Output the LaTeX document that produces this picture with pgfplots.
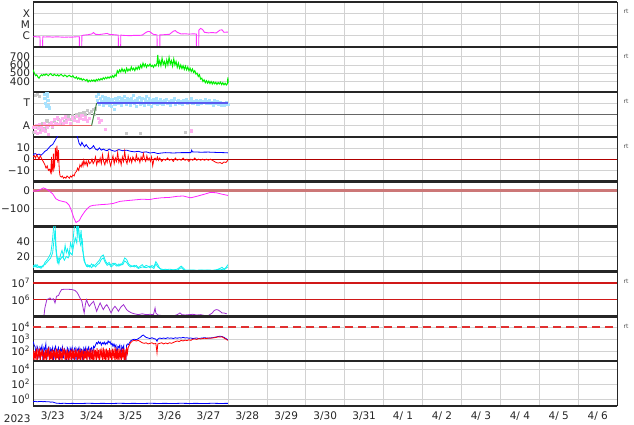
\documentclass[border=0pt]{standalone}
\usepackage{fontspec}
\setmainfont{DejaVu Sans}
\usepackage{pgfplots}
\pgfplotsset{compat=1.18}
\definecolor{gridgray}{HTML}{D2D2D2}
\definecolor{xmag}{HTML}{FF33FF}
\definecolor{swgreen}{HTML}{00F000}
\definecolor{ltblue}{HTML}{A8E2FF}
\definecolor{ltpink}{HTML}{FFB0F0}
\definecolor{ltgray}{HTML}{C8C8C8}
\definecolor{alinered}{HTML}{E06060}
\definecolor{tlineblue}{HTML}{5A5AF0}
\definecolor{trgreen}{HTML}{408040}
\definecolor{zerored}{HTML}{B00000}
\definecolor{dstzero}{HTML}{CC7777}
\definecolor{dstmag}{HTML}{FF22FF}
\definecolor{cyanl}{HTML}{10F0F0}
\definecolor{purp}{HTML}{A030D0}
\definecolor{refred}{HTML}{D01818}
\definecolor{dashred}{HTML}{E03030}
\newcommand{\tfont}{\fontsize{10.5}{12}\selectfont}
\tikzset{rt/.style={font=\fontsize{6}{6}\selectfont, text=black!70, anchor=west, xshift=3pt}}
\pgfplotsset{
  panel/.style={
    scale only axis, width=584pt, height=44.9pt, anchor=south west,
    xmin=0, xmax=15, xtick={0,1,...,15}, xticklabels={},
    xmajorgrids, ymajorgrids,
    major grid style={draw=gridgray, line width=0.6pt},
    separate axis lines,
    every outer x axis line/.append style={line width=2.4pt, black!85},
    every outer y axis line/.append style={line width=1pt, black!85},
    tick style={draw=none},
    clip mode=individual,
    yticklabel style={font=\tfont, text=black!85, inner sep=0pt, xshift=-3pt},
    xticklabel style={font=\tfont, text=black!85},
    every axis plot/.append style={line width=0.8pt},
  },
}
\begin{document}
\begin{tikzpicture}
\path[use as bounding box] (-33.2pt,-18pt) rectangle (600.8pt,406.1pt);
% ---------- Panel 1: X-ray class ----------
\begin{axis}[panel, at={(0pt,359.2pt)}, ymin=-7, ymax=-3,
  ytick={-6,-5,-4}, yticklabels={C,M,X}]
\addplot[xmag, no marks, line width=0.9pt] coordinates {(0,-6.1)(0.05,-6.08)(0.1,-6.12)(0.15,-6.1)(0.175,-6.11)(0.18,-7.5)(0.24,-7.5)(0.245,-6.1)(0.3,-6.12)(0.4,-6.1)(0.5,-6.13)(0.6,-6.1)(0.7,-6.12)(0.8,-6.14)(0.9,-6.12)(1.0,-6.13)(1.1,-6.1)(1.185,-6.1)(1.19,-7.5)(1.245,-7.5)(1.25,-6.0)(1.3,-5.95)(1.4,-5.92)(1.5,-5.85)(1.55,-5.72)(1.6,-5.88)(1.7,-5.9)(1.8,-5.85)(1.9,-5.8)(1.95,-5.88)(2.0,-5.9)(2.1,-5.92)(2.185,-5.95)(2.19,-7.5)(2.245,-7.5)(2.25,-5.95)(2.35,-5.98)(2.5,-6.0)(2.6,-5.97)(2.7,-5.98)(2.8,-5.95)(2.9,-5.7)(2.95,-5.62)(3.0,-5.65)(3.05,-5.8)(3.1,-5.9)(3.18,-5.92)(3.185,-7.5)(3.25,-7.5)(3.255,-5.92)(3.3,-5.93)(3.4,-5.9)(3.5,-5.88)(3.6,-5.6)(3.65,-5.55)(3.7,-5.7)(3.8,-5.85)(3.9,-5.83)(4.0,-5.86)(4.1,-5.84)(4.19,-5.85)(4.195,-7.5)(4.25,-7.5)(4.255,-5.5)(4.3,-5.35)(4.35,-5.45)(4.4,-5.7)(4.5,-5.75)(4.6,-5.72)(4.7,-5.76)(4.8,-5.5)(4.85,-5.48)(4.9,-5.7)(5.0,-5.68)};
\node[rt] at (rel axis cs:1,0.78) {rt};
\end{axis}
% ---------- Panel 2: solar wind speed ----------
\begin{axis}[panel, at={(0pt,314.3pt)}, ymin=276, ymax=816,
  ytick={400,500,600,700}, yticklabels={400,500,600,700}]
\addplot[swgreen, no marks, line width=1pt] coordinates {(0.00,540)(0.03,500)(0.06,470)(0.09,480)(0.12,455)(0.15,440)(0.18,465)(0.21,480)(0.24,470)(0.27,485)(0.30,475)(0.33,490)(0.36,480)(0.39,470)(0.42,485)(0.45,495)(0.48,478)(0.51,470)(0.54,488)(0.57,476)(0.60,470)(0.63,482)(0.66,465)(0.69,478)(0.72,485)(0.75,470)(0.78,462)(0.81,478)(0.84,470)(0.87,455)(0.90,468)(0.93,474)(0.96,460)(0.99,455)(1.02,470)(1.05,448)(1.08,440)(1.11,455)(1.14,430)(1.17,445)(1.20,425)(1.23,438)(1.26,415)(1.29,430)(1.32,420)(1.35,410)(1.38,425)(1.41,395)(1.44,415)(1.47,400)(1.50,418)(1.53,405)(1.56,420)(1.59,400)(1.62,425)(1.65,410)(1.68,430)(1.71,415)(1.74,435)(1.77,420)(1.80,445)(1.83,430)(1.86,450)(1.89,435)(1.92,455)(1.95,440)(1.98,460)(2.01,445)(2.04,470)(2.07,450)(2.10,480)(2.13,465)(2.16,530)(2.19,505)(2.22,540)(2.25,515)(2.28,555)(2.31,520)(2.34,545)(2.37,510)(2.40,560)(2.43,525)(2.46,550)(2.49,530)(2.52,575)(2.55,540)(2.58,560)(2.61,530)(2.64,570)(2.67,545)(2.70,580)(2.73,550)(2.76,600)(2.79,565)(2.82,620)(2.85,580)(2.88,610)(2.91,570)(2.94,600)(2.97,585)(3.00,610)(3.03,580)(3.06,595)(3.09,570)(3.12,600)(3.15,585)(3.18,620)(3.20,720)(3.22,600)(3.25,650)(3.28,590)(3.31,680)(3.34,605)(3.37,640)(3.40,580)(3.43,660)(3.46,600)(3.49,690)(3.52,610)(3.55,650)(3.58,585)(3.61,670)(3.64,600)(3.67,640)(3.70,570)(3.73,620)(3.76,560)(3.79,600)(3.82,555)(3.85,590)(3.88,545)(3.91,585)(3.94,540)(3.97,575)(4.00,530)(4.03,560)(4.06,520)(4.09,550)(4.12,510)(4.15,530)(4.18,490)(4.21,500)(4.24,460)(4.27,480)(4.30,430)(4.33,440)(4.36,400)(4.39,420)(4.42,385)(4.45,410)(4.48,380)(4.51,405)(4.54,375)(4.57,400)(4.60,370)(4.63,395)(4.66,372)(4.69,390)(4.72,365)(4.75,388)(4.78,370)(4.81,392)(4.84,362)(4.87,385)(4.90,360)(4.93,380)(4.96,358)(4.99,375)(5.00,450)(5.01,380)};
\node[rt] at (rel axis cs:1,0.78) {rt};
\end{axis}
% ---------- Panel 3: sector ----------
\begin{axis}[panel, at={(0pt,269.4pt)}, ymin=0, ymax=1,
  ytick={0.25,0.75}, yticklabels={A,T}]
\addplot[black!60, line width=0.8pt, forget plot] coordinates {(0,0.5)(15,0.5)};
\addplot[ltgray, only marks, mark=square*, mark size=1.1pt] coordinates {(0.02,0.1)(0.05,0.92)(0.1,0.95)(0.15,0.9)(0.12,0.2)(0.2,0.15)(0.25,0.3)(0.3,0.18)(0.35,0.35)(0.4,0.25)(0.45,0.3)(0.5,0.22)(0.55,0.35)(0.6,0.3)(0.65,0.38)(0.7,0.27)(0.75,0.4)(0.8,0.33)(0.85,0.42)(0.9,0.45)(0.95,0.38)(1.0,0.48)(1.05,0.43)(1.1,0.5)(1.15,0.45)(1.2,0.52)(1.25,0.47)(1.3,0.55)(1.35,0.5)(1.4,0.58)(1.45,0.52)(1.5,0.56)(1.55,0.6)(1.58,0.5)(1.6,0.62)(2.4,0.07)(2.75,0.07)(3.9,0.1)};
\addplot[ltpink, only marks, mark=square*, mark size=1.1pt] coordinates {(0.02,0.2)(0.05,0.12)(0.08,0.25)(0.1,0.08)(0.13,0.18)(0.16,0.28)(0.19,0.1)(0.22,0.22)(0.25,0.15)(0.28,0.3)(0.31,0.12)(0.34,0.25)(0.37,0.2)(0.4,0.05)(0.43,0.28)(0.46,0.32)(0.5,0.24)(0.54,0.38)(0.58,0.3)(0.62,0.42)(0.66,0.27)(0.7,0.35)(0.74,0.4)(0.78,0.3)(0.82,0.44)(0.86,0.33)(0.9,0.38)(0.95,0.3)(1.0,0.42)(1.05,0.36)(1.1,0.45)(1.15,0.34)(1.2,0.4)(1.25,0.47)(1.3,0.38)(1.35,0.42)(1.4,0.35)(1.45,0.4)(1.68,0.4)(1.7,0.32)(1.74,0.36)(1.85,0.17)(4.07,0.13)};
\addplot[ltblue, only marks, mark=square*, mark size=1.1pt] coordinates {(0.28,0.95)(0.3,0.85)(0.32,0.75)(0.34,0.68)(0.36,0.9)(0.38,0.8)(0.4,0.7)(0.42,0.64)(0.35,0.97)(1.62,0.9)(1.65,0.8)(1.68,0.95)(1.7,0.72)(1.72,0.85)(1.75,0.78)(1.78,0.9)(1.8,0.7)(1.83,0.82)(1.86,0.88)(1.88,0.75)(1.9,0.8)(1.93,0.85)(1.96,0.7)(1.98,0.78)(2.0,0.68)(2.02,0.82)(2.05,0.76)(2.08,0.6)(2.1,0.72)(2.12,0.85)(2.15,0.8)(2.18,0.74)(2.2,0.88)(2.23,0.79)(2.26,0.7)(2.28,0.84)(2.31,0.76)(2.34,0.9)(2.36,0.8)(2.39,0.73)(2.42,0.86)(2.45,0.78)(2.48,0.82)(2.5,0.7)(2.53,0.85)(2.56,0.78)(2.58,0.92)(2.6,0.74)(2.63,0.8)(2.66,0.68)(2.68,0.84)(2.7,0.77)(2.73,0.88)(2.76,0.72)(2.78,0.8)(2.8,0.85)(2.83,0.75)(2.86,0.7)(2.88,0.82)(2.9,0.9)(2.93,0.78)(2.96,0.73)(2.98,0.85)(3.0,0.8)(3.03,0.68)(3.06,0.76)(3.08,0.83)(3.1,0.74)(3.13,0.8)(3.16,0.86)(3.18,0.72)(3.2,0.79)(3.23,0.75)(3.26,0.82)(3.3,0.78)(3.33,0.72)(3.36,0.8)(3.4,0.76)(3.43,0.83)(3.46,0.74)(3.5,0.79)(3.53,0.71)(3.56,0.8)(3.6,0.77)(3.63,0.84)(3.66,0.73)(3.7,0.78)(3.73,0.81)(3.76,0.75)(3.8,0.79)(3.83,0.72)(3.86,0.8)(3.9,0.76)(3.93,0.82)(3.96,0.74)(4.0,0.79)(4.03,0.77)(4.06,0.84)(4.1,0.74)(4.13,0.79)(4.16,0.76)(4.2,0.81)(4.23,0.73)(4.26,0.78)(4.3,0.8)(4.33,0.75)(4.36,0.79)(4.4,0.76)(4.43,0.82)(4.46,0.74)(4.5,0.78)(4.53,0.8)(4.56,0.75)(4.6,0.77)(4.63,0.7)(4.66,0.8)(4.7,0.74)(4.73,0.78)(4.76,0.72)(4.8,0.76)(4.83,0.7)(4.86,0.75)(4.9,0.69)(4.93,0.74)(4.96,0.77)(5.0,0.72)};
\addplot[alinered, no marks, line width=1pt] coordinates {(0,0.25)(1.5,0.25)};
\addplot[trgreen, no marks, line width=1pt] coordinates {(1.5,0.25)(1.63,0.75)};
\addplot[tlineblue, no marks, line width=1.2pt] coordinates {(1.63,0.75)(5.0,0.75)};
\node[rt] at (rel axis cs:1,0.78) {rt};
\end{axis}
% ---------- Panel 4: Bt / Bz ----------
\begin{axis}[panel, at={(0pt,224.5pt)}, ymin=-20, ymax=20,
  ytick={-10,0,10}, yticklabels={−10,0,10}]
\addplot[zerored, line width=1pt, forget plot] coordinates {(0,0)(15,0)};
\addplot[blue, no marks] coordinates {(0,4)(0.05,5)(0.1,4)(0.15,4.5)(0.2,3.5)(0.25,5)(0.3,7)(0.35,8)(0.4,10)(0.45,12)(0.5,13)(0.55,16)(0.6,19)(0.65,22)(0.7,22)(1.12,22)(1.15,18)(1.18,14)(1.22,12)(1.25,15)(1.28,13)(1.32,11)(1.36,13)(1.4,11)(1.45,9)(1.5,10)(1.55,12)(1.6,9)(1.65,8)(1.7,10)(1.75,8)(1.8,9)(1.85,8)(1.9,7.5)(1.95,9)(2.0,8)(2.1,7)(2.2,8.5)(2.3,7.5)(2.4,8)(2.5,7)(2.6,6.5)(2.7,7)(2.8,6)(2.9,6.5)(3.0,5.5)(3.1,6)(3.2,5)(3.3,5.5)(3.4,5.8)(3.6,5.5)(3.8,5.8)(4.0,5.8)(4.05,5.8)(4.07,8)(4.09,6.5)(4.3,6.2)(4.5,6.3)(4.7,6.0)(4.9,5.8)(5.0,5.6)};
\addplot[red, no marks] coordinates {(0.00,2)(0.03,3)(0.06,1)(0.09,4)(0.12,2)(0.15,0)(0.18,3)(0.21,1)(0.24,-1)(0.27,-3)(0.30,-5)(0.33,-8)(0.36,-6)(0.39,-10)(0.42,-9)(0.45,-12)(0.47,2)(0.48,-11)(0.50,-8)(0.52,5)(0.53,-9)(0.55,-6)(0.57,10)(0.59,0)(0.61,12)(0.63,-3)(0.65,8)(0.67,-10)(0.69,-15)(0.72,-16)(0.75,-15)(0.78,-17)(0.81,-16)(0.84,-17)(0.87,-15)(0.90,-16)(0.93,-17)(0.96,-15)(0.99,-16)(1.02,-14)(1.05,-15)(1.08,-12)(1.11,-11)(1.14,-8)(1.17,-10)(1.20,-5)(1.23,-7)(1.26,-3)(1.28,-6)(1.30,-1)(1.33,-5)(1.36,-2)(1.39,-6)(1.42,-1)(1.45,-4)(1.48,-3)(1.51,0)(1.54,-4)(1.57,-2)(1.60,2)(1.63,-5)(1.66,-1)(1.69,-3)(1.72,1)(1.75,-4)(1.78,4)(1.81,-2)(1.84,-5)(1.87,0)(1.90,-3)(1.93,5)(1.96,-2)(1.99,-6)(2.02,-1)(2.05,3)(2.08,-4)(2.11,1)(2.14,-2)(2.17,6)(2.20,-3)(2.23,0)(2.26,-5)(2.29,2)(2.32,-2)(2.35,7)(2.38,-1)(2.41,-4)(2.44,3)(2.47,-2)(2.50,1)(2.53,-3)(2.56,2)(2.59,0)(2.62,-2)(2.65,4)(2.68,-1)(2.71,1)(2.74,-3)(2.77,2)(2.80,-1)(2.83,5)(2.86,0)(2.89,-2)(2.92,3)(2.95,-1)(2.98,1)(3.01,-2)(3.04,2)(3.07,-6)(3.10,0)(3.13,1)(3.16,-1)(3.19,2)(3.22,-1)(3.25,1)(3.30,-2)(3.35,0)(3.40,-1)(3.45,1)(3.50,-1)(3.55,0)(3.60,-2)(3.65,1)(3.70,-1)(3.75,0)(3.80,-1)(3.85,1)(3.90,-1)(3.95,0)(4.00,-2)(4.05,0)(4.10,-1)(4.15,1)(4.20,-1)(4.25,0)(4.30,-1)(4.35,0)(4.40,-1)(4.45,0)(4.50,-1)(4.55,0)(4.60,-1)(4.65,-2)(4.70,-3)(4.75,-3.5)(4.80,-3)(4.85,-4)(4.90,-2.5)(4.95,-3)(5.00,-1)};
\node[rt] at (rel axis cs:1,0.78) {rt};
\end{axis}
% ---------- Panel 5: Dst ----------
\begin{axis}[panel, at={(0pt,179.6pt)}, ymin=-200, ymax=50,
  ytick={-100,0}, yticklabels={−100,0}]
\addplot[dstzero, line width=2.2pt, forget plot] coordinates {(0,0)(15,0)};
\addplot[dstmag, no marks] coordinates {(0,-3)(0.1,-2)(0.18,5)(0.26,15)(0.32,10)(0.4,0)(0.5,-18)(0.58,-45)(0.66,-55)(0.75,-60)(0.85,-65)(0.92,-80)(0.98,-110)(1.04,-150)(1.1,-178)(1.14,-172)(1.18,-168)(1.25,-140)(1.33,-115)(1.4,-98)(1.46,-87)(1.55,-82)(1.65,-80)(1.75,-78)(1.9,-76)(2.05,-72)(2.23,-60)(2.4,-56)(2.6,-52)(2.8,-48)(3.0,-50)(3.1,-45)(3.3,-40)(3.5,-38)(3.7,-32)(3.85,-30)(4.0,-38)(4.05,-40)(4.2,-32)(4.4,-20)(4.55,-10)(4.7,-12)(4.85,-20)(5.0,-27)};
\end{axis}
% ---------- Panel 6: cyan ----------
\begin{axis}[panel, at={(0pt,134.7pt)}, ymin=0, ymax=60,
  ytick={20,40}, yticklabels={20,40}]
\addplot[cyanl, no marks] coordinates {(0,8)(0.05,6)(0.1,9)(0.15,5)(0.2,7)(0.25,6)(0.3,12)(0.35,15)(0.4,19)(0.45,24)(0.48,35)(0.5,45)(0.53,62)(0.56,65)(0.58,40)(0.6,25)(0.63,15)(0.66,10)(0.7,22)(0.74,28)(0.78,20)(0.82,35)(0.85,25)(0.88,30)(0.92,22)(0.96,38)(1.0,30)(1.03,45)(1.06,62)(1.1,65)(1.13,50)(1.16,62)(1.2,40)(1.23,55)(1.26,30)(1.3,20)(1.33,12)(1.37,7)(1.4,9)(1.45,6)(1.5,10)(1.55,7)(1.6,9)(1.65,12)(1.7,15)(1.75,20)(1.8,22)(1.85,15)(1.9,10)(1.95,12)(2.0,8)(2.05,11)(2.1,9)(2.15,7)(2.2,10)(2.25,8)(2.3,12)(2.35,18)(2.4,16)(2.45,10)(2.5,8)(2.55,7)(2.6,6)(2.65,8)(2.7,5)(2.75,7)(2.8,9)(2.85,6)(2.9,8)(2.95,7)(3.0,5)(3.05,8)(3.1,6)(3.15,13)(3.2,9)(3.25,4)(3.3,3)(3.4,2)(3.5,3)(3.6,2)(3.7,3)(3.8,7)(3.85,5)(3.9,2)(4.0,1)(4.1,2)(4.2,1.5)(4.3,2)(4.4,1)(4.5,2)(4.6,1.5)(4.7,2)(4.8,4)(4.85,5.5)(4.9,3)(4.95,5)(5.0,9)};
\addplot[cyanl, no marks] coordinates {(0,5)(0.05,9)(0.1,5)(0.15,7)(0.2,4)(0.25,8)(0.3,9)(0.35,12)(0.4,15)(0.45,18)(0.5,25)(0.53,40)(0.56,55)(0.58,30)(0.62,12)(0.66,18)(0.7,16)(0.75,20)(0.8,15)(0.85,20)(0.9,18)(0.95,25)(1.0,22)(1.04,35)(1.08,45)(1.12,38)(1.15,65)(1.18,45)(1.22,35)(1.26,42)(1.3,15)(1.35,9)(1.4,6)(1.45,8)(1.5,5)(1.55,9)(1.6,6)(1.65,9)(1.7,11)(1.75,16)(1.8,18)(1.85,12)(1.9,8)(1.95,10)(2.0,6)(2.05,8)(2.1,11)(2.15,9)(2.2,7)(2.25,10)(2.3,9)(2.35,14)(2.4,12)(2.45,8)(2.5,6)(2.6,8)(2.7,4)(2.8,6)(2.9,5)(3.0,7)(3.1,4)(3.15,10)(3.2,6)(3.3,2)(3.4,3)(3.5,1)(3.6,2)(3.7,1.5)(3.8,5)(3.9,1)(4.0,2)(4.2,1)(4.4,2)(4.6,1)(4.8,3)(4.9,2)(5.0,6)};
\end{axis}
% ---------- Panel 7: purple (log10) ----------
\begin{axis}[panel, at={(0pt,89.8pt)}, ymin=5, ymax=7.69,
  ytick={6,7}, yticklabels={10\textsuperscript{6},10\textsuperscript{7}}]
\addplot[refred, line width=1.2pt, forget plot] coordinates {(0,6)(15,6)};
\addplot[refred, line width=1.2pt, forget plot] coordinates {(0,7)(15,7)};
\addplot[purp, no marks] coordinates {(0.25,4.5)(0.3,5.5)(0.35,6.0)(0.4,6.05)(0.43,6.1)(0.47,6.0)(0.52,6.05)(0.56,5.8)(0.6,6.2)(0.65,6.25)(0.69,6.45)(0.73,6.6)(0.8,6.62)(0.9,6.62)(1.0,6.6)(1.07,6.55)(1.12,6.45)(1.16,6.3)(1.2,6.1)(1.25,5.9)(1.29,5.4)(1.31,5.2)(1.34,5.7)(1.37,6.0)(1.4,5.8)(1.44,5.6)(1.49,5.75)(1.55,5.9)(1.59,5.6)(1.63,5.3)(1.68,5.6)(1.72,5.8)(1.76,5.6)(1.8,5.4)(1.85,5.6)(1.89,5.7)(1.94,5.5)(2.0,5.2)(2.05,5.45)(2.1,5.6)(2.15,5.45)(2.19,5.3)(2.25,5.55)(2.32,5.7)(2.36,5.55)(2.4,5.4)(2.45,5.3)(2.53,5.2)(2.6,5.15)(2.7,5.1)(2.8,5.15)(2.9,5.1)(3.0,5.12)(3.09,5.1)(3.11,5.3)(3.13,5.5)(3.15,5.2)(3.2,5.08)(3.3,5.05)(3.4,5.02)(3.5,5.04)(3.6,5.02)(3.7,5.1)(3.77,5.2)(3.82,5.1)(3.9,5.08)(4.0,5.1)(4.1,5.12)(4.2,5.08)(4.3,5.1)(4.4,5.05)(4.5,5.05)(4.6,5.2)(4.65,5.35)(4.7,5.4)(4.75,5.38)(4.8,5.3)(4.85,5.2)(4.9,5.2)(4.97,5.15)};
\node[rt] at (rel axis cs:1,0.78) {rt};
\end{axis}
% ---------- Panel 8: flux (log10) ----------
\begin{axis}[panel, at={(0pt,44.9pt)}, ymin=1.15, ymax=4.92,
  ytick={2,3,4}, yticklabels={10\textsuperscript{2},10\textsuperscript{3},10\textsuperscript{4}}]
\addplot[dashred, line width=1.6pt, dash pattern=on 8pt off 5pt, forget plot] coordinates {(0,4)(15,4)};
\addplot[blue, no marks] coordinates {(0,2.8)(0.025,2.5)(0.05,2.35)(0.075,1.6)(0.1,2.4)(0.125,2.2)(0.15,1.4)(0.175,2.3)(0.2,2.1)(0.225,2.45)(0.25,1.2)(0.275,2.3)(0.3,2.1)(0.325,2.6)(0.35,1.3)(0.375,2.2)(0.4,2.35)(0.425,1.5)(0.45,2.2)(0.475,2.0)(0.5,2.3)(0.525,1.1)(0.55,2.2)(0.575,2.4)(0.6,1.6)(0.625,2.1)(0.65,2.3)(0.675,1.2)(0.7,2.2)(0.725,2.0)(0.75,2.35)(0.775,1.4)(0.8,2.2)(0.825,2.05)(0.85,1.1)(0.875,2.3)(0.9,2.15)(0.925,1.5)(0.95,2.25)(0.975,2.0)(1.0,2.3)(1.025,1.3)(1.05,2.15)(1.075,2.3)(1.1,1.2)(1.125,2.2)(1.15,2.05)(1.175,2.3)(1.2,1.5)(1.225,2.2)(1.25,2.1)(1.275,1.1)(1.3,2.25)(1.325,2.0)(1.35,2.3)(1.375,1.4)(1.4,2.2)(1.425,2.35)(1.45,1.3)(1.475,2.2)(1.5,2.3)(1.525,1.6)(1.55,2.4)(1.575,2.3)(1.6,2.5)(1.625,2.7)(1.65,2.6)(1.675,2.8)(1.7,2.65)(1.725,2.75)(1.75,2.5)(1.775,2.7)(1.8,2.6)(1.825,2.75)(1.85,2.55)(1.875,2.7)(1.9,2.6)(1.925,2.85)(1.95,2.7)(1.975,2.8)(2.0,2.55)(2.025,2.65)(2.05,2.4)(2.075,2.6)(2.1,2.35)(2.125,2.5)(2.15,1.6)(2.175,2.4)(2.2,2.3)(2.225,2.5)(2.25,1.4)(2.275,2.4)(2.3,2.2)(2.325,2.45)(2.35,1.0)(2.375,1.0)(2.4,2.5)(2.425,2.6)(2.45,2.55)(2.5,2.85)(2.55,2.95)(2.6,3.0)(2.65,2.95)(2.7,3.05)(2.75,3.15)(2.8,3.3)(2.83,3.35)(2.86,3.25)(2.9,3.15)(2.95,3.1)(3.0,3.05)(3.05,3.12)(3.1,3.05)(3.15,3.0)(3.18,2.82)(3.2,3.0)(3.25,3.1)(3.3,3.05)(3.35,3.1)(3.4,3.05)(3.45,3.12)(3.5,3.08)(3.55,3.1)(3.6,3.05)(3.65,3.12)(3.7,3.08)(3.75,3.12)(3.8,3.1)(3.85,3.15)(3.9,3.1)(3.95,3.12)(4.0,3.08)(4.05,3.1)(4.1,3.05)(4.15,3.08)(4.2,3.1)(4.25,3.05)(4.3,3.08)(4.35,3.1)(4.4,3.12)(4.45,3.1)(4.5,3.08)(4.55,3.1)(4.6,3.12)(4.65,3.15)(4.7,3.18)(4.75,3.22)(4.8,3.25)(4.85,3.22)(4.9,3.15)(4.95,3.05)(5.0,2.95)};
\addplot[red, no marks] coordinates {(0,2.1)(0.02,0.9)(0.04,2.0)(0.06,1.5)(0.08,2.2)(0.1,0.9)(0.12,2.05)(0.14,1.6)(0.16,2.2)(0.18,1.0)(0.2,2.0)(0.22,1.7)(0.24,2.15)(0.26,0.9)(0.28,1.95)(0.3,1.4)(0.32,2.1)(0.34,1.0)(0.36,2.2)(0.38,1.5)(0.4,2.35)(0.42,0.9)(0.44,2.0)(0.46,1.3)(0.48,2.15)(0.5,1.0)(0.52,2.1)(0.54,1.6)(0.56,2.0)(0.58,0.9)(0.6,2.2)(0.62,1.4)(0.64,2.05)(0.66,1.0)(0.68,2.15)(0.7,1.5)(0.72,2.0)(0.74,0.9)(0.76,2.1)(0.78,1.7)(0.8,2.2)(0.82,1.0)(0.84,2.05)(0.86,1.3)(0.88,2.15)(0.9,0.9)(0.92,2.0)(0.94,1.5)(0.96,2.1)(0.98,1.0)(1.0,2.2)(1.02,1.4)(1.04,2.05)(1.06,0.9)(1.08,2.15)(1.1,1.6)(1.12,2.0)(1.14,1.0)(1.16,2.1)(1.18,1.3)(1.2,2.2)(1.22,0.9)(1.24,2.05)(1.26,1.5)(1.28,2.15)(1.3,1.0)(1.32,2.0)(1.34,1.4)(1.36,2.2)(1.38,0.9)(1.4,2.1)(1.42,1.6)(1.44,2.0)(1.46,1.0)(1.48,2.15)(1.5,1.3)(1.52,2.05)(1.54,0.9)(1.56,2.2)(1.58,1.5)(1.6,2.1)(1.62,1.0)(1.64,2.25)(1.66,1.4)(1.68,2.1)(1.7,0.9)(1.72,2.2)(1.74,1.6)(1.76,2.05)(1.78,1.0)(1.8,2.3)(1.82,1.3)(1.84,2.15)(1.86,0.9)(1.88,2.2)(1.9,1.5)(1.92,2.1)(1.94,1.0)(1.96,2.25)(1.98,1.4)(2.0,2.1)(2.02,0.9)(2.04,2.2)(2.06,1.6)(2.08,2.05)(2.1,1.0)(2.12,2.3)(2.14,1.3)(2.16,2.15)(2.18,0.9)(2.2,2.2)(2.22,1.5)(2.24,2.1)(2.26,1.0)(2.28,2.25)(2.3,1.4)(2.32,2.2)(2.34,0.9)(2.36,2.15)(2.38,1.2)(2.4,2.3)(2.42,1.8)(2.44,2.3)(2.47,2.5)(2.5,2.7)(2.55,2.85)(2.6,2.9)(2.65,2.85)(2.7,2.9)(2.75,2.8)(2.8,2.7)(2.85,2.65)(2.9,2.7)(2.95,2.6)(3.0,2.65)(3.05,2.7)(3.1,2.6)(3.15,2.65)(3.18,1.85)(3.2,2.6)(3.25,2.65)(3.3,2.7)(3.35,2.6)(3.4,2.68)(3.45,2.62)(3.5,2.7)(3.55,2.65)(3.6,2.72)(3.65,2.8)(3.7,2.85)(3.75,2.8)(3.8,2.9)(3.85,2.85)(3.9,2.92)(3.95,2.88)(4.0,2.95)(4.05,2.9)(4.1,3.0)(4.15,3.02)(4.2,2.98)(4.25,3.05)(4.3,3.02)(4.35,3.05)(4.4,3.08)(4.45,3.05)(4.5,3.1)(4.55,3.08)(4.6,3.1)(4.65,3.12)(4.7,3.15)(4.75,3.2)(4.8,3.18)(4.85,3.2)(4.9,3.1)(4.95,3.0)(5.0,2.9)};
\node[rt] at (rel axis cs:1,0.78) {rt};
\end{axis}
% ---------- Panel 9: bottom (log10) ----------
\begin{axis}[panel, at={(0pt,0pt)}, ymin=-0.9, ymax=5.0,
  ytick={0,2,4}, yticklabels={10\textsuperscript{0},10\textsuperscript{2},10\textsuperscript{4}},
  extra x ticks={0.5,1.5,...,14.5},
  extra x tick labels={3/23,3/24,3/25,3/26,3/27,3/28,3/29,3/30,3/31,4/ 1,4/ 2,4/ 3,4/ 4,4/ 5,4/ 6},
  extra x tick style={grid=none},
  xticklabel style={yshift=-2pt}]
\addplot[blue, no marks] coordinates {(0,-0.3)(0.05,-0.27)(0.1,-0.33)(0.15,-0.3)(0.2,-0.28)(0.25,-0.32)(0.3,-0.3)(0.35,-0.34)(0.4,-0.32)(0.45,-0.38)(0.5,-0.36)(0.55,-0.45)(0.6,-0.52)(0.7,-0.55)(0.8,-0.53)(0.9,-0.56)(1.0,-0.54)(1.2,-0.56)(1.4,-0.53)(1.6,-0.55)(1.8,-0.54)(2.0,-0.56)(2.2,-0.53)(2.4,-0.55)(2.6,-0.54)(2.8,-0.56)(3.0,-0.53)(3.2,-0.55)(3.4,-0.54)(3.6,-0.56)(3.8,-0.53)(4.0,-0.55)(4.2,-0.54)(4.4,-0.56)(4.6,-0.53)(4.8,-0.55)(5.0,-0.54)};
\node[font=\tfont, text=black!85, anchor=north] at (rel axis cs:0,0) [xshift=-16pt, yshift=-5.3pt] {2023};
\end{axis}
\end{tikzpicture}
\end{document}
